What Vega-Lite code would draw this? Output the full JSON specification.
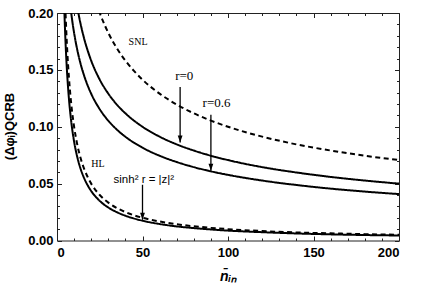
{
  "$schema": "https://vega.github.io/schema/vega-lite/v6.json",
  "autosize": "none",
  "width": 342,
  "height": 227.5,
  "padding": {"left": 57, "top": 13, "right": 37, "bottom": 49},
  "background": "white",
  "config": {
    "view": {"stroke": null},
    "axis": {"grid": false, "domainColor": "#222", "tickColor": "#222", "domainWidth": 1, "tickWidth": 1,
      "labelFont": "Liberation Sans", "labelFontWeight": "bold", "labelFontSize": 13, "labelColor": "black",
      "titleFont": "Liberation Sans", "titleFontWeight": "bold", "titleColor": "black"}
  },
  "datasets": {
    "curves": [
      {"series": "SNL", "style": "dashed", "n": 20, "v": 0.2236},
      {"series": "SNL", "style": "dashed", "n": 22, "v": 0.2132},
      {"series": "SNL", "style": "dashed", "n": 25, "v": 0.2},
      {"series": "SNL", "style": "dashed", "n": 28, "v": 0.189},
      {"series": "SNL", "style": "dashed", "n": 30, "v": 0.1826},
      {"series": "SNL", "style": "dashed", "n": 35, "v": 0.169},
      {"series": "SNL", "style": "dashed", "n": 40, "v": 0.1581},
      {"series": "SNL", "style": "dashed", "n": 45, "v": 0.1491},
      {"series": "SNL", "style": "dashed", "n": 50, "v": 0.1414},
      {"series": "SNL", "style": "dashed", "n": 60, "v": 0.1291},
      {"series": "SNL", "style": "dashed", "n": 70, "v": 0.1195},
      {"series": "SNL", "style": "dashed", "n": 80, "v": 0.1118},
      {"series": "SNL", "style": "dashed", "n": 90, "v": 0.1054},
      {"series": "SNL", "style": "dashed", "n": 100, "v": 0.1},
      {"series": "SNL", "style": "dashed", "n": 120, "v": 0.0913},
      {"series": "SNL", "style": "dashed", "n": 140, "v": 0.0845},
      {"series": "SNL", "style": "dashed", "n": 160, "v": 0.0791},
      {"series": "SNL", "style": "dashed", "n": 180, "v": 0.0745},
      {"series": "SNL", "style": "dashed", "n": 200, "v": 0.0707},

      {"series": "r0", "style": "solid", "n": 10, "v": 0.2236},
      {"series": "r0", "style": "solid", "n": 12, "v": 0.2041},
      {"series": "r0", "style": "solid", "n": 14, "v": 0.189},
      {"series": "r0", "style": "solid", "n": 16, "v": 0.1768},
      {"series": "r0", "style": "solid", "n": 18, "v": 0.1667},
      {"series": "r0", "style": "solid", "n": 20, "v": 0.1581},
      {"series": "r0", "style": "solid", "n": 25, "v": 0.1414},
      {"series": "r0", "style": "solid", "n": 30, "v": 0.1291},
      {"series": "r0", "style": "solid", "n": 35, "v": 0.1195},
      {"series": "r0", "style": "solid", "n": 40, "v": 0.1118},
      {"series": "r0", "style": "solid", "n": 50, "v": 0.1},
      {"series": "r0", "style": "solid", "n": 60, "v": 0.0913},
      {"series": "r0", "style": "solid", "n": 70, "v": 0.0845},
      {"series": "r0", "style": "solid", "n": 80, "v": 0.0791},
      {"series": "r0", "style": "solid", "n": 90, "v": 0.0745},
      {"series": "r0", "style": "solid", "n": 100, "v": 0.0707},
      {"series": "r0", "style": "solid", "n": 120, "v": 0.0645},
      {"series": "r0", "style": "solid", "n": 140, "v": 0.0598},
      {"series": "r0", "style": "solid", "n": 160, "v": 0.0559},
      {"series": "r0", "style": "solid", "n": 180, "v": 0.0527},
      {"series": "r0", "style": "solid", "n": 200, "v": 0.05},

      {"series": "r06", "style": "solid", "n": 7, "v": 0.2181},
      {"series": "r06", "style": "solid", "n": 8, "v": 0.204},
      {"series": "r06", "style": "solid", "n": 9, "v": 0.1923},
      {"series": "r06", "style": "solid", "n": 10, "v": 0.1825},
      {"series": "r06", "style": "solid", "n": 12, "v": 0.1666},
      {"series": "r06", "style": "solid", "n": 14, "v": 0.1542},
      {"series": "r06", "style": "solid", "n": 16, "v": 0.1443},
      {"series": "r06", "style": "solid", "n": 18, "v": 0.136},
      {"series": "r06", "style": "solid", "n": 20, "v": 0.129},
      {"series": "r06", "style": "solid", "n": 25, "v": 0.1154},
      {"series": "r06", "style": "solid", "n": 30, "v": 0.1053},
      {"series": "r06", "style": "solid", "n": 35, "v": 0.0975},
      {"series": "r06", "style": "solid", "n": 40, "v": 0.0912},
      {"series": "r06", "style": "solid", "n": 50, "v": 0.0816},
      {"series": "r06", "style": "solid", "n": 60, "v": 0.0745},
      {"series": "r06", "style": "solid", "n": 70, "v": 0.069},
      {"series": "r06", "style": "solid", "n": 80, "v": 0.0645},
      {"series": "r06", "style": "solid", "n": 90, "v": 0.0608},
      {"series": "r06", "style": "solid", "n": 100, "v": 0.0577},
      {"series": "r06", "style": "solid", "n": 120, "v": 0.0527},
      {"series": "r06", "style": "solid", "n": 140, "v": 0.0488},
      {"series": "r06", "style": "solid", "n": 160, "v": 0.0456},
      {"series": "r06", "style": "solid", "n": 180, "v": 0.043},
      {"series": "r06", "style": "solid", "n": 200, "v": 0.0408},

      {"series": "HL", "style": "dashed", "n": 4.5, "v": 0.2222},
      {"series": "HL", "style": "dashed", "n": 5, "v": 0.2},
      {"series": "HL", "style": "dashed", "n": 5.5, "v": 0.1818},
      {"series": "HL", "style": "dashed", "n": 6, "v": 0.1667},
      {"series": "HL", "style": "dashed", "n": 7, "v": 0.1429},
      {"series": "HL", "style": "dashed", "n": 8, "v": 0.125},
      {"series": "HL", "style": "dashed", "n": 9, "v": 0.1111},
      {"series": "HL", "style": "dashed", "n": 10, "v": 0.1},
      {"series": "HL", "style": "dashed", "n": 12, "v": 0.0833},
      {"series": "HL", "style": "dashed", "n": 14, "v": 0.0714},
      {"series": "HL", "style": "dashed", "n": 16, "v": 0.0625},
      {"series": "HL", "style": "dashed", "n": 18, "v": 0.0556},
      {"series": "HL", "style": "dashed", "n": 20, "v": 0.05},
      {"series": "HL", "style": "dashed", "n": 25, "v": 0.04},
      {"series": "HL", "style": "dashed", "n": 30, "v": 0.0333},
      {"series": "HL", "style": "dashed", "n": 35, "v": 0.0286},
      {"series": "HL", "style": "dashed", "n": 40, "v": 0.025},
      {"series": "HL", "style": "dashed", "n": 50, "v": 0.02},
      {"series": "HL", "style": "dashed", "n": 60, "v": 0.0167},
      {"series": "HL", "style": "dashed", "n": 70, "v": 0.0143},
      {"series": "HL", "style": "dashed", "n": 80, "v": 0.0125},
      {"series": "HL", "style": "dashed", "n": 90, "v": 0.0111},
      {"series": "HL", "style": "dashed", "n": 100, "v": 0.01},
      {"series": "HL", "style": "dashed", "n": 120, "v": 0.0083},
      {"series": "HL", "style": "dashed", "n": 140, "v": 0.0071},
      {"series": "HL", "style": "dashed", "n": 160, "v": 0.0063},
      {"series": "HL", "style": "dashed", "n": 180, "v": 0.0056},
      {"series": "HL", "style": "dashed", "n": 200, "v": 0.005},

      {"series": "opt", "style": "solid", "n": 4, "v": 0.2175},
      {"series": "opt", "style": "solid", "n": 4.5, "v": 0.1933},
      {"series": "opt", "style": "solid", "n": 5, "v": 0.174},
      {"series": "opt", "style": "solid", "n": 5.5, "v": 0.1582},
      {"series": "opt", "style": "solid", "n": 6, "v": 0.145},
      {"series": "opt", "style": "solid", "n": 7, "v": 0.1243},
      {"series": "opt", "style": "solid", "n": 8, "v": 0.1088},
      {"series": "opt", "style": "solid", "n": 9, "v": 0.0967},
      {"series": "opt", "style": "solid", "n": 10, "v": 0.087},
      {"series": "opt", "style": "solid", "n": 12, "v": 0.0725},
      {"series": "opt", "style": "solid", "n": 14, "v": 0.0621},
      {"series": "opt", "style": "solid", "n": 16, "v": 0.0544},
      {"series": "opt", "style": "solid", "n": 18, "v": 0.0483},
      {"series": "opt", "style": "solid", "n": 20, "v": 0.0435},
      {"series": "opt", "style": "solid", "n": 25, "v": 0.0348},
      {"series": "opt", "style": "solid", "n": 30, "v": 0.029},
      {"series": "opt", "style": "solid", "n": 35, "v": 0.0249},
      {"series": "opt", "style": "solid", "n": 40, "v": 0.0218},
      {"series": "opt", "style": "solid", "n": 50, "v": 0.0174},
      {"series": "opt", "style": "solid", "n": 60, "v": 0.0145},
      {"series": "opt", "style": "solid", "n": 70, "v": 0.0124},
      {"series": "opt", "style": "solid", "n": 80, "v": 0.0109},
      {"series": "opt", "style": "solid", "n": 90, "v": 0.0097},
      {"series": "opt", "style": "solid", "n": 100, "v": 0.0087},
      {"series": "opt", "style": "solid", "n": 120, "v": 0.0073},
      {"series": "opt", "style": "solid", "n": 140, "v": 0.0062},
      {"series": "opt", "style": "solid", "n": 160, "v": 0.0054},
      {"series": "opt", "style": "solid", "n": 180, "v": 0.0048},
      {"series": "opt", "style": "solid", "n": 200, "v": 0.0044}
    ],
    "arrows": [
      {"n": 72, "top": 0.135, "tip": 0.0862},
      {"n": 90, "top": 0.1105, "tip": 0.0613},
      {"n": 50, "top": 0.049, "tip": 0.0182}
    ],
    "labels": [
      {"n": 47.4, "v": 0.1745, "text": "SNL", "font": "serif", "size": 10},
      {"n": 74.4, "v": 0.145, "text": "r=0", "font": "serif", "size": 13},
      {"n": 93.3, "v": 0.121, "text": "r=0.6", "font": "serif", "size": 13},
      {"n": 24, "v": 0.0675, "text": "HL", "font": "serif", "size": 10},
      {"n": 50.8, "v": 0.0534, "text": "sinh² r = |z|²", "font": "sans", "size": 11.5}
    ]
  },
  "resolve": {"axis": {"x": "independent", "y": "independent"}},
  "layer": [
    {
      "data": {"name": "curves"},
      "mark": {"type": "line", "clip": true, "color": "black", "strokeWidth": 2, "interpolate": "monotone"},
      "encoding": {
        "x": {"field": "n", "type": "quantitative", "scale": {"domain": [0, 200], "nice": false},
          "axis": {"orient": "bottom", "values": [0, 50, 100, 150, 200], "tickSize": -4.5, "labelPadding": 10,
            "title": "n̄ᵢₙ", "titleFontSize": 14, "titleFontStyle": "italic", "titleBaseline": "middle", "titleY": 36}},
        "y": {"field": "v", "type": "quantitative", "scale": {"domain": [0, 0.2], "nice": false, "zero": false},
          "axis": {"orient": "left", "values": [0, 0.05, 0.1, 0.15, 0.2], "format": ".2f", "tickSize": -4.5, "labelPadding": 8.5,
            "title": "(Δφᵢ)QCRB", "titleFontSize": 13, "titleBaseline": "middle", "titleAngle": 270, "titleX": -48, "titleY": 113}},
        "detail": {"field": "series"},
        "strokeDash": {"field": "style", "type": "nominal", "scale": {"domain": ["solid", "dashed"], "range": [[1, 0], [5, 3.5]]}, "legend": null}
      }
    },
    {
      "data": {"name": "arrows"},
      "mark": {"type": "rule", "color": "black", "strokeWidth": 1.3},
      "encoding": {
        "x": {"field": "n", "type": "quantitative",
          "axis": {"orient": "bottom", "values": [10,20,30,40,60,70,80,90,110,120,130,140,160,170,180,190], "tickSize": -2.5, "labels": false, "domain": false, "title": null}},
        "y": {"field": "top", "type": "quantitative",
          "axis": {"orient": "left", "values": [0.01,0.02,0.03,0.04,0.06,0.07,0.08,0.09,0.11,0.12,0.13,0.14,0.16,0.17,0.18,0.19], "tickSize": -2.5, "labels": false, "domain": false, "title": null}},
        "y2": {"field": "tip"}
      }
    },
    {
      "data": {"name": "arrows"},
      "mark": {"type": "point", "filled": true, "color": "black", "opacity": 1, "size": 64, "shape": "M0,0L-0.6,-1.75L0.6,-1.75Z"},
      "encoding": {
        "x": {"field": "n", "type": "quantitative",
          "axis": {"orient": "top", "values": [0, 50, 100, 150, 200], "tickSize": -4.5, "labels": false, "title": null}},
        "y": {"field": "tip", "type": "quantitative",
          "axis": {"orient": "right", "values": [0, 0.05, 0.1, 0.15, 0.2], "tickSize": -4.5, "labels": false, "title": null}}
      }
    },
    {
      "data": {"name": "labels"},
      "transform": [{"filter": "datum.font === 'serif'"}],
      "mark": {"type": "text", "font": "Liberation Serif", "color": "black", "align": "center", "baseline": "middle"},
      "encoding": {
        "x": {"field": "n", "type": "quantitative",
          "axis": {"orient": "top", "values": [10,20,30,40,60,70,80,90,110,120,130,140,160,170,180,190], "tickSize": -2.5, "labels": false, "domain": false, "title": null}},
        "y": {"field": "v", "type": "quantitative",
          "axis": {"orient": "right", "values": [0.01,0.02,0.03,0.04,0.06,0.07,0.08,0.09,0.11,0.12,0.13,0.14,0.16,0.17,0.18,0.19], "tickSize": -2.5, "labels": false, "domain": false, "title": null}},
        "text": {"field": "text"},
        "size": {"field": "size", "type": "quantitative", "scale": null}
      }
    },
    {
      "data": {"name": "labels"},
      "transform": [{"filter": "datum.font === 'sans'"}],
      "mark": {"type": "text", "font": "Liberation Sans", "color": "black", "align": "center", "baseline": "middle"},
      "encoding": {
        "x": {"field": "n", "type": "quantitative", "axis": null},
        "y": {"field": "v", "type": "quantitative", "axis": null},
        "text": {"field": "text"},
        "size": {"field": "size", "type": "quantitative", "scale": null}
      }
    }
  ]
}
